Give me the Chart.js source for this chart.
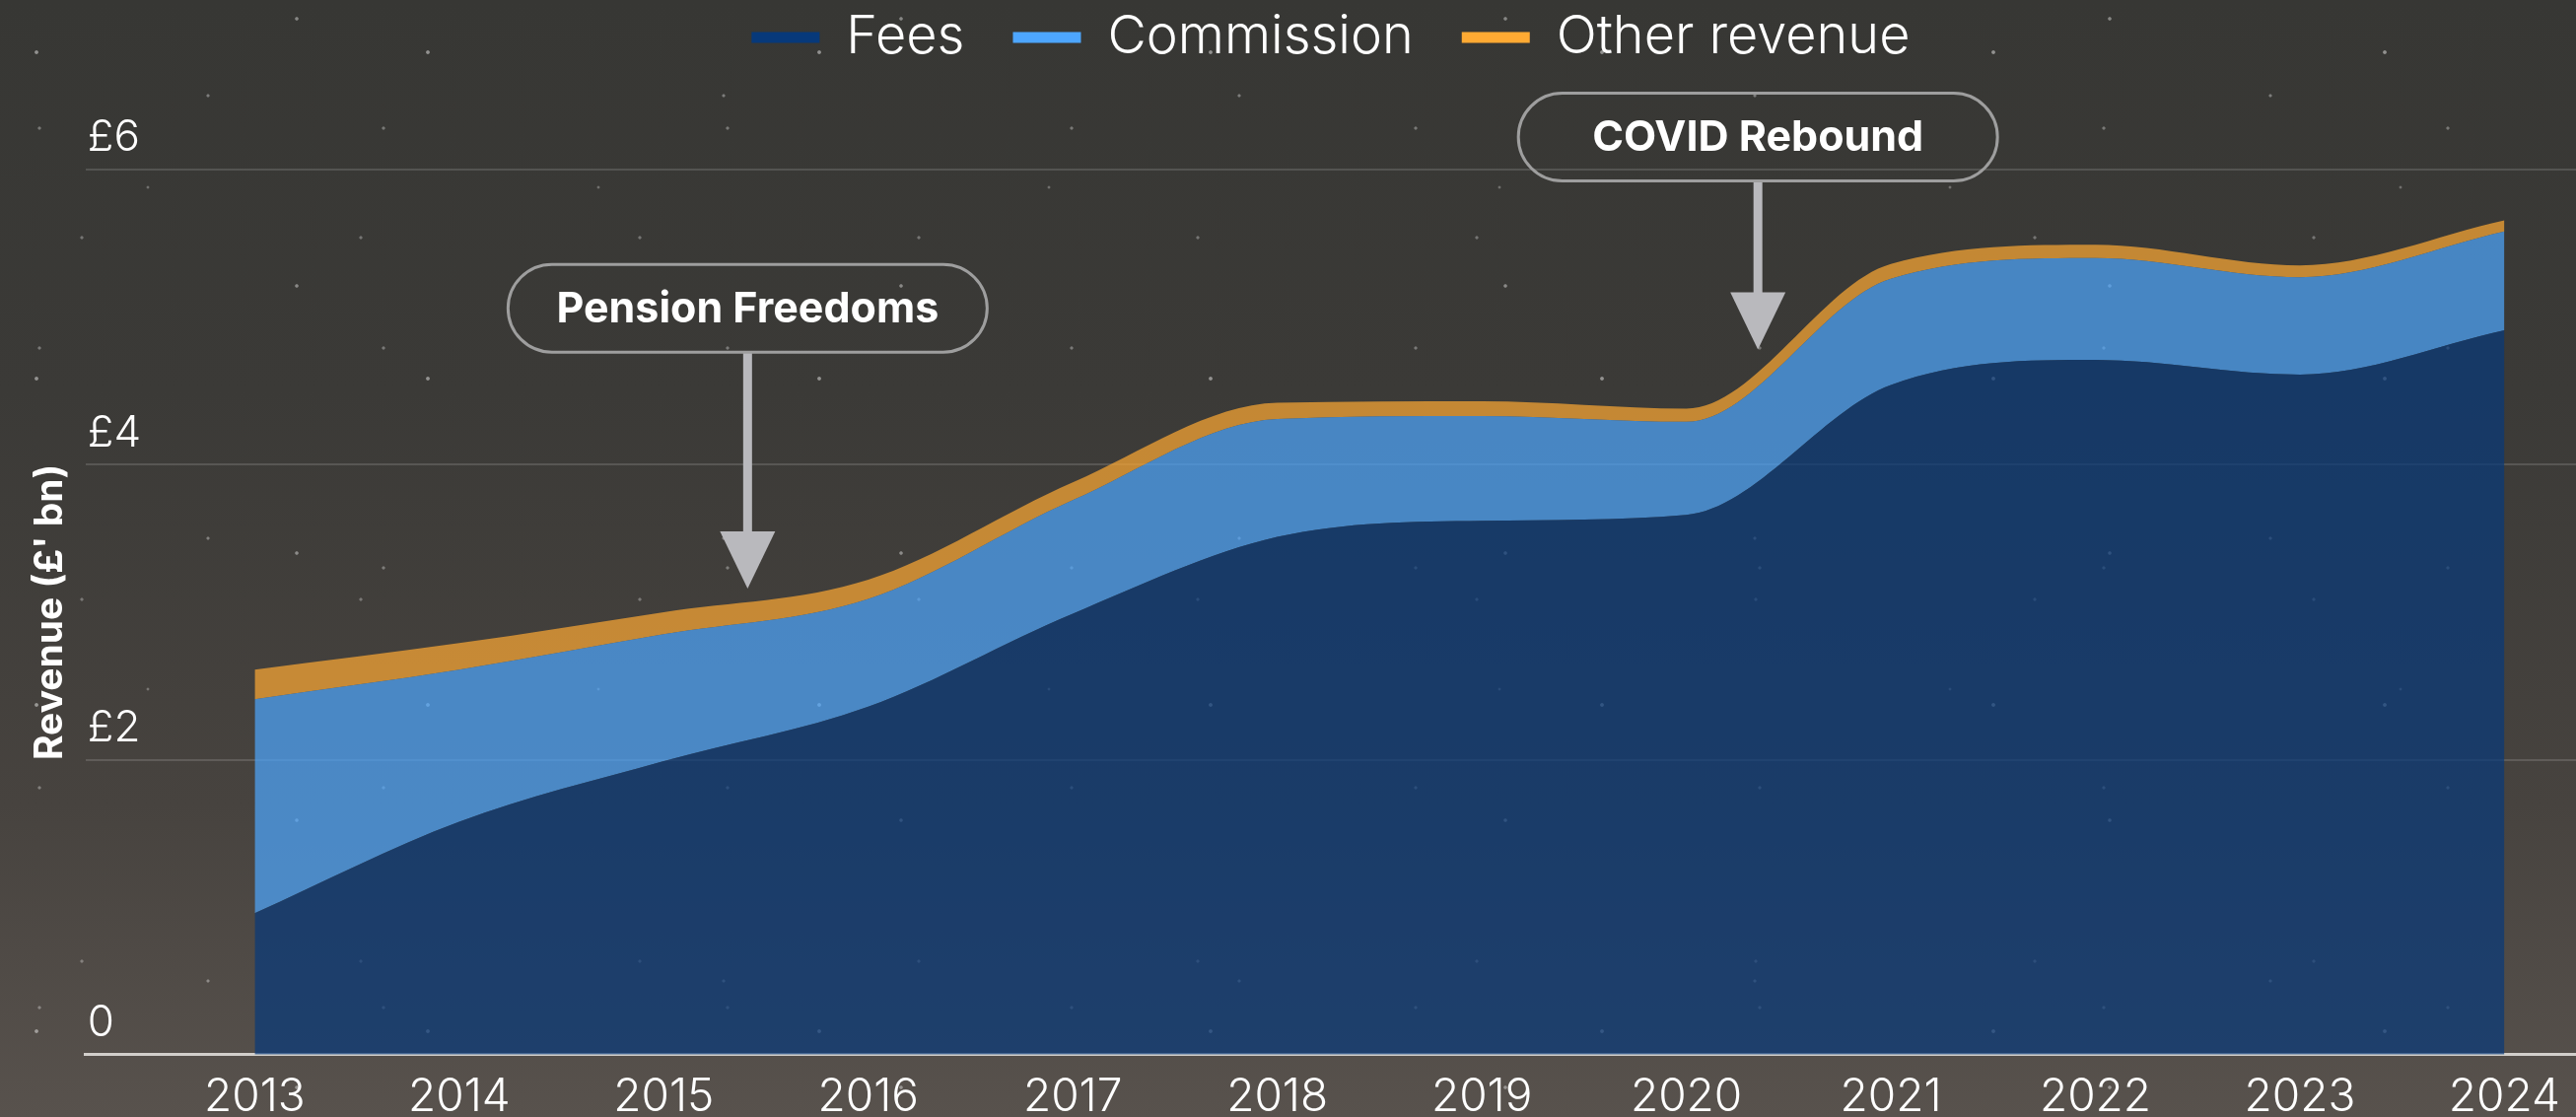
<!DOCTYPE html>
<html>
<head>
<meta charset="utf-8">
<title>Revenue by source</title>
<script src="https://cdn.jsdelivr.net/npm/chart.js@4.4.1/dist/chart.umd.min.js"></script>
<style>
  html, body { margin: 0; padding: 0; }
  body {
    width: 2613px;
    height: 1133px;
    overflow: hidden;
    background-color: #3c3b38;
    background-image:
      radial-gradient(circle at 37px 53px, rgba(255,255,255,0.45) 0 1.4px, transparent 2.3px),
      radial-gradient(circle at 211px 97px, rgba(255,255,255,0.35) 0 1.1px, transparent 2px),
      radial-gradient(circle at 83px 241px, rgba(255,255,255,0.3) 0 1.2px, transparent 2px),
      radial-gradient(circle at 301px 19px, rgba(255,255,255,0.4) 0 1.3px, transparent 2.2px),
      radial-gradient(circle at 150px 190px, rgba(255,255,255,0.28) 0 1px, transparent 1.8px),
      radial-gradient(circle at 40px 130px, rgba(255,255,255,0.32) 0 1.2px, transparent 2px),
      linear-gradient(180deg, #373734 0%, #3b3a37 35%, #47433f 72%, #58524d 100%);
    background-size: 397px 331px, 523px 449px, 283px 367px, 613px 271px, 457px 509px, 349px 223px, 100% 100%;
  }
  #wrap { position: relative; width: 2613px; height: 1133px; }
</style>
</head>
<body>
<div id="wrap"><canvas id="revenue-chart"></canvas></div>
<script>
// values in £bn
const years = [2013, 2014, 2015, 2016, 2017, 2018, 2019, 2020, 2021, 2022, 2023, 2024];
const fees = [0.96, 1.58, 1.99, 2.36, 2.99, 3.51, 3.62, 3.66, 4.54, 4.71, 4.61, 4.91];
const commission = [1.45, 1.03, 0.86, 0.73, 0.77, 0.80, 0.71, 0.63, 0.72, 0.69, 0.66, 0.67];
const otherRevenue = [0.20, 0.18, 0.15, 0.13, 0.12, 0.11, 0.10, 0.09, 0.10, 0.09, 0.08, 0.075];
const yTicks = [0, 2, 4, 6];
const seriesNames = ['Fees', 'Commission', 'Other revenue'];
const seriesColours = ['#07397a', '#4da6ff', '#ffaa33'];

// callouts: year the arrow sits on, value of the box centre, value the arrow points to
const callouts = [
  {label: 'Pension Freedoms', year: 2015.41, boxAt: 5.06, pointsTo: 3.16},
  {label: 'COVID Rebound', year: 2020.35, boxAt: 6.22, pointsTo: 4.78},
];

function withAlpha(hex, a) {
  const n = parseInt(hex.slice(1), 16);
  return 'rgba(' + (n >> 16) + ',' + ((n >> 8) & 255) + ',' + (n & 255) + ',' + a + ')';
}

function series(values) {
  return values.map((v, i) => ({x: years[i], y: v}));
}

Chart.defaults.font.family = 'Inter, "Open Sans", sans-serif';
Chart.defaults.color = '#ffffff';

// push the plot down below the legend, and centre the legend over the plot
const legendGap = {
  id: 'legendGap',
  beforeInit(chart) {
    const fit = chart.legend.fit;
    chart.legend.fit = function() {
      fit.call(this);
      this.height += 97;
    };
  },
  afterLayout(chart) {
    chart.legend.left = chart.chartArea.left;
  },
};

const calloutPlugin = {
  id: 'callouts',
  afterDatasetsDraw(chart) {
    const {ctx, scales: {x, y}} = chart;
    const w = 486, h = 89;
    ctx.save();
    callouts.forEach((c) => {
      const cx = x.getPixelForValue(c.year);
      const cy = y.getPixelForValue(c.boxAt);
      const tip = y.getPixelForValue(c.pointsTo);

      ctx.strokeStyle = '#b9b9bd';
      ctx.fillStyle = '#b9b9bd';
      ctx.lineWidth = 9;
      ctx.beginPath();
      ctx.moveTo(cx, cy + h / 2);
      ctx.lineTo(cx, tip - 50);
      ctx.stroke();
      ctx.beginPath();
      ctx.moveTo(cx - 28, tip - 58);
      ctx.lineTo(cx + 28, tip - 58);
      ctx.lineTo(cx, tip);
      ctx.closePath();
      ctx.fill();

      ctx.beginPath();
      ctx.roundRect(cx - w / 2, cy - h / 2, w, h, h / 2);
      ctx.lineWidth = 3;
      ctx.strokeStyle = '#9e9e9e';
      ctx.stroke();

      ctx.fillStyle = '#ffffff';
      ctx.font = '700 43px Inter, "Open Sans", sans-serif';
      ctx.textAlign = 'center';
      ctx.textBaseline = 'middle';
      ctx.fillText(c.label, cx, cy + 1);
    });
    ctx.restore();
  },
};

const data = {
  datasets: [
    {label: seriesNames[0], data: series(fees), fill: 'origin'},
    {label: seriesNames[1], data: series(commission), fill: '-1'},
    {label: seriesNames[2], data: series(otherRevenue), fill: '-1'},
  ].map((ds, i) => ({
    ...ds,
    backgroundColor: withAlpha(seriesColours[i], 0.7),
    borderColor: seriesColours[i],
    borderWidth: 0,
    pointRadius: 0,
    pointHoverRadius: 0,
    cubicInterpolationMode: 'monotone',
  })),
};

new Chart(document.getElementById('revenue-chart'), {
  type: 'line',
  data: data,
  plugins: [legendGap, calloutPlugin],
  options: {
    responsive: true,
    maintainAspectRatio: false,
    animation: false,
    layout: {padding: {top: -38, bottom: -24, left: 0, right: 0}},
    plugins: {
      tooltip: {enabled: false},
      legend: {
        position: 'top',
        labels: {
          boxWidth: 69,
          boxHeight: 11,
          padding: 49,
          color: '#ffffff',
          font: {size: 54, weight: 300},
          generateLabels(chart) {
            return chart.data.datasets.map((ds, i) => ({
              text: ds.label,
              fillStyle: seriesColours[i],
              strokeStyle: seriesColours[i],
              lineWidth: 0,
              fontColor: '#ffffff',
              hidden: !chart.isDatasetVisible(i),
              datasetIndex: i,
            }));
          },
        },
      },
    },
    scales: {
      x: {
        type: 'linear',
        min: 2012.173,
        max: 2024.35,
        afterBuildTicks(scale) {
          scale.ticks = years.map((v) => ({value: v}));
        },
        grid: {display: false, drawTicks: false},
        border: {display: true, color: '#d2cfcb', width: 3},
        ticks: {
          autoSkip: false,
          maxRotation: 0,
          padding: 16,
          color: '#ffffff',
          font: {size: 46, weight: 300},
          callback: (v) => String(v),
        },
      },
      y: {
        stacked: true,
        min: 0,
        max: 6,
        afterBuildTicks(scale) {
          scale.ticks = yTicks.map((v) => ({value: v}));
        },
        grid: {color: 'rgba(255,255,255,0.14)', lineWidth: 2, drawTicks: false},
        border: {display: false},
        ticks: {
          mirror: true,
          padding: 2,
          labelOffset: -32,
          color: '#ffffff',
          font: {size: 44, weight: 300},
          callback: (v) => (v === 0 ? '0' : '£' + v),
        },
        title: {
          display: true,
          text: "Revenue (£' bn)",
          color: '#ffffff',
          font: {size: 39, weight: 700},
          padding: {top: 28, bottom: 8},
        },
      },
    },
  },
});
</script>
</body>
</html>
